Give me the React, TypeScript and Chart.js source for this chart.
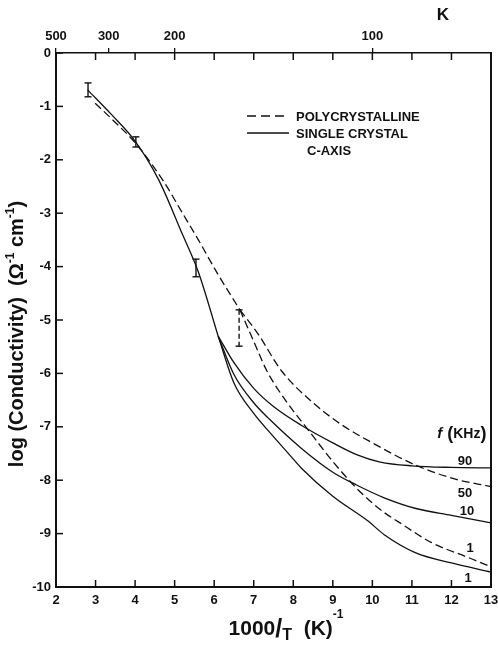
import React, { useEffect, useRef } from "react";
import { Chart, registerables } from "chart.js";

Chart.register(...registerables);

const FONT = "'Liberation Sans Narrow', 'Liberation Sans', Arial, sans-serif";

// x = 1000/T (K^-1), y = log conductivity
const mainSolidX = [2.8, 3.4, 4.0, 4.6, 5.2, 5.6, 6.1];
const mainSolidY = [-0.69, -1.15, -1.65, -2.38, -3.4, -4.1, -5.3];
const mainDashedX = [2.99, 3.5, 4.0, 4.7, 5.2, 5.6, 6.1, 6.65];
const mainDashedY = [-0.94, -1.3, -1.68, -2.38, -3.0, -3.5, -4.15, -4.81];
const poly1X = [6.65, 7.0, 7.33, 7.8, 8.4, 9.0, 9.6, 10.2, 10.7, 11.5, 12.4, 13];
const poly1Y = [-4.81, -5.4, -5.95, -6.5, -7.08, -7.65, -8.15, -8.55, -8.8, -9.17, -9.44, -9.62];
const poly50X = [6.65, 7.1, 7.7, 8.5, 9.2, 10.0, 11.1, 12.1, 13];
const poly50Y = [-4.81, -5.25, -5.95, -6.55, -6.95, -7.3, -7.72, -7.98, -8.12];
const single90X = [6.1, 6.5, 7.0, 7.5, 8.2, 9.0, 9.6, 10.2, 11.0, 12.0, 13];
const single90Y = [-5.3, -5.8, -6.28, -6.62, -6.97, -7.3, -7.52, -7.66, -7.73, -7.76, -7.77];
const single10X = [6.1, 6.5, 7.0, 7.4, 8.2, 9.0, 9.6, 10.3, 11.1, 12.0, 13];
const single10Y = [-5.3, -6.02, -6.55, -6.86, -7.4, -7.85, -8.09, -8.33, -8.53, -8.66, -8.8];
const single1X = [6.1, 6.5, 7.0, 7.4, 7.9, 8.2, 9.0, 9.9, 10.3, 11.1, 12.0, 13];
const single1Y = [-5.3, -6.18, -6.75, -7.1, -7.52, -7.77, -8.3, -8.77, -9.02, -9.36, -9.55, -9.72];

// error bars
const errX = [2.81, 4.02, 5.54, 6.63];
const errHigh = [-0.56, -1.57, -3.86, -4.81];
const errLow = [-0.82, -1.76, -4.19, -5.49];
const errDashed = [false, false, false, true];

// top axis temperatures (K)
const topTemps = [500, 300, 200, 100];

// frequency labels (kHz)
const freqLabels = ["90", "50", "10", "1", "1"];

const INK = "#111";
const DASH = [8, 4];

type Seg = { t: string; size: number; dy?: number; italic?: boolean };

function drawRich(ctx: CanvasRenderingContext2D, segs: Seg[], x: number, y: number, align: "left" | "center") {
  const font = (s: Seg) => `${s.italic ? "italic " : ""}bold ${s.size}px ${FONT}`;
  let total = 0;
  const widths = segs.map((s) => {
    ctx.font = font(s);
    const w = ctx.measureText(s.t).width;
    total += w;
    return w;
  });
  let cx = align === "center" ? x - total / 2 : x;
  ctx.textAlign = "left";
  ctx.textBaseline = "alphabetic";
  segs.forEach((s, i) => {
    ctx.font = font(s);
    ctx.fillText(s.t, cx, y + (s.dy || 0));
    cx += widths[i];
  });
}

const mk = (xs: number[], ys: number[], dashed: boolean) => ({
  data: xs.map((x, i) => ({ x, y: ys[i] })),
  borderColor: INK,
  borderWidth: 1.3,
  borderDash: dashed ? DASH : [],
  pointRadius: 0,
  cubicInterpolationMode: "monotone" as const,
  fill: false,
});

const decor = {
  id: "decor",
  afterDraw(chart: any) {
    const { ctx, chartArea: a } = chart;
    const x = chart.scales.x;
    const y = chart.scales.y;
    ctx.save();
    ctx.strokeStyle = INK;
    ctx.fillStyle = INK;
    ctx.lineWidth = 1.5;
    const line = (x1: number, y1: number, x2: number, y2: number) => {
      ctx.beginPath();
      ctx.moveTo(x1, y1);
      ctx.lineTo(x2, y2);
      ctx.stroke();
    };
    // inward ticks
    x.ticks.forEach((t: any) => {
      const px = x.getPixelForValue(t.value);
      line(px, a.bottom, px, a.bottom - 7);
      line(px, a.top, px, a.top + 7);
    });
    y.ticks.forEach((t: any) => {
      const py = y.getPixelForValue(t.value);
      line(a.left, py, a.left + 7, py);
    });
    // error bars
    errX.forEach((ex, i) => {
      const px = x.getPixelForValue(ex);
      const pt = y.getPixelForValue(errHigh[i]);
      const pb = y.getPixelForValue(errLow[i]);
      ctx.lineWidth = 1.4;
      ctx.setLineDash(errDashed[i] ? [5, 3] : []);
      line(px, pt, px, pb);
      ctx.setLineDash([]);
      line(px - 3.5, pt, px + 3.5, pt);
      line(px - 3.5, pb, px + 3.5, pb);
    });
    // legend
    ctx.lineWidth = 1.3;
    ctx.setLineDash([9, 5]);
    line(247, 116, 289, 116);
    ctx.setLineDash([]);
    line(247, 133, 289, 133);
    drawRich(ctx, [{ t: "POLYCRYSTALLINE", size: 13 }], 296, 121, "left");
    drawRich(ctx, [{ t: "SINGLE CRYSTAL", size: 13 }], 296, 138, "left");
    drawRich(ctx, [{ t: "C-AXIS", size: 13 }], 307, 155, "left");
    // frequency labels
    const fx = [12.34, 12.34, 12.39, 12.47, 12.42];
    const fy = [-7.62, -8.22, -8.56, -9.25, -9.81];
    freqLabels.forEach((lab, i) => {
      drawRich(ctx, [{ t: lab, size: 13 }], x.getPixelForValue(fx[i]), y.getPixelForValue(fy[i]) + 5, "center");
    });
    drawRich(
      ctx,
      [
        { t: "f", size: 15, italic: true },
        { t: " (", size: 18, dy: 1 },
        { t: "KHz", size: 14 },
        { t: ")", size: 18, dy: 1 },
      ],
      x.getPixelForValue(11.64),
      y.getPixelForValue(-7.12) + 5,
      "left"
    );
    // K label
    drawRich(ctx, [{ t: "K", size: 17 }], 443, 20, "center");
    // x title
    drawRich(
      ctx,
      [
        { t: "1000", size: 21 },
        { t: "/", size: 25, dy: 2 },
        { t: "T", size: 16, dy: 5 },
        { t: "  (K)", size: 21 },
        { t: "-1", size: 12, dy: -17 },
      ],
      286,
      635,
      "center"
    );
    // y title
    ctx.translate(17, 334);
    ctx.rotate(-Math.PI / 2);
    drawRich(
      ctx,
      [
        { t: "log (Conductivity)  (Ω", size: 20 },
        { t: "-1", size: 12, dy: -9 },
        { t: " cm", size: 20 },
        { t: "-1", size: 12, dy: -9 },
        { t: ")", size: 20 },
      ],
      0,
      6,
      "center"
    );
    ctx.restore();
  },
};

const noPadX = (h: number) => (s: any) => {
  s.height = h;
  s.paddingLeft = 0;
  s.paddingRight = 0;
};

export default function App() {
  const ref = useRef<HTMLCanvasElement>(null);
  useEffect(() => {
    if (!ref.current) return;
    const tickFont = { family: FONT, size: 13, weight: "bold" as const };
    const chart = new Chart(ref.current, {
      type: "line",
      data: {
        datasets: [
          mk(mainSolidX, mainSolidY, false),
          mk(mainDashedX, mainDashedY, true),
          mk(poly1X, poly1Y, true),
          mk(poly50X, poly50Y, true),
          mk(single90X, single90Y, false),
          mk(single10X, single10Y, false),
          mk(single1X, single1Y, false),
        ],
      },
      options: {
        responsive: false,
        animation: false,
        devicePixelRatio: 1,
        layout: { padding: 0 },
        plugins: { legend: { display: false }, tooltip: { enabled: false } },
        scales: {
          x: {
            type: "linear",
            position: "bottom",
            min: 2,
            max: 13,
            ticks: { stepSize: 1, font: tickFont, color: INK, padding: 6, maxRotation: 0, autoSkip: false },
            grid: { drawOnChartArea: false, drawTicks: false },
            border: { color: INK, width: 2 },
            afterFit: noPadX(62),
          },
          x2: {
            type: "linear",
            position: "top",
            min: 2,
            max: 13,
            afterBuildTicks: (s: any) => {
              s.ticks = topTemps.map((t) => ({ value: 1000 / t }));
            },
            ticks: {
              font: tickFont,
              color: INK,
              padding: 4,
              maxRotation: 0,
              autoSkip: false,
              callback: (v: any) => String(Math.round(1000 / Number(v))),
            },
            grid: { drawOnChartArea: false, drawTicks: true, tickLength: 5, color: INK, lineWidth: 1.3 },
            border: { color: INK, width: 1.5 },
            afterFit: noPadX(53),
          },
          y: {
            type: "linear",
            position: "left",
            min: -10,
            max: 0,
            ticks: { stepSize: 1, font: tickFont, color: INK, padding: 5 },
            grid: { drawOnChartArea: false, drawTicks: false },
            border: { color: INK, width: 2 },
            afterFit: (s: any) => {
              s.width = 56;
              s.paddingTop = 0;
              s.paddingBottom = 0;
            },
          },
          y2: {
            type: "linear",
            position: "right",
            min: -10,
            max: 0,
            ticks: { display: false },
            grid: { drawOnChartArea: false, drawTicks: false },
            border: { color: INK, width: 2 },
            afterFit: (s: any) => {
              s.width = 7;
              s.paddingTop = 0;
              s.paddingBottom = 0;
            },
          },
        },
      } as any,
      plugins: [decor],
    });
    return () => chart.destroy();
  }, []);
  return (
    <canvas
      ref={ref}
      width={498}
      height={649}
      style={{ position: "absolute", left: 0, top: 0, width: 498, height: 649 }}
    />
  );
}
